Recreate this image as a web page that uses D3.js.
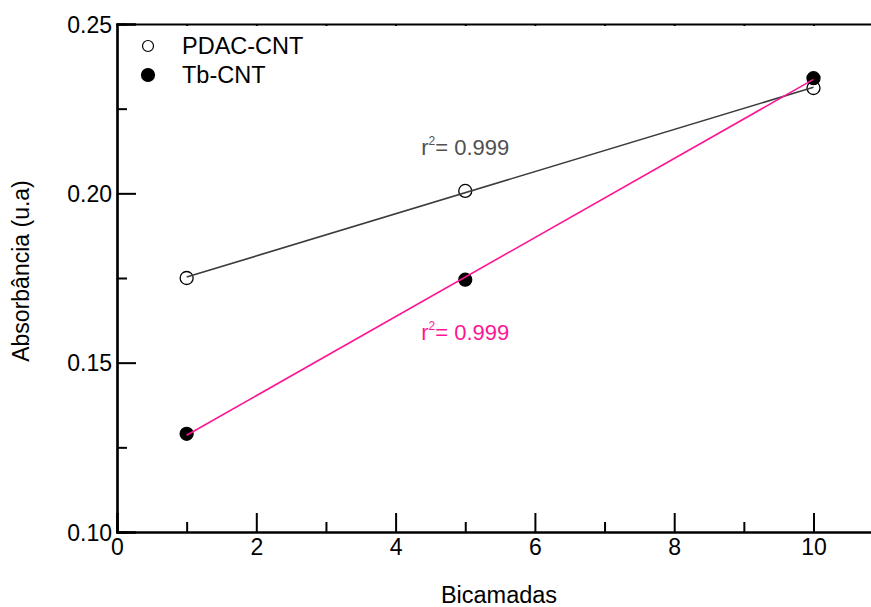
<!DOCTYPE html>
<html>
<head>
<meta charset="utf-8">
<script src="https://cdn.jsdelivr.net/npm/d3@7"></script>
<style>
  body { margin: 0; background: #fff; }
  svg { display: block; font-family: "Liberation Sans", Arial, sans-serif; }
</style>
</head>
<body>
<script>
// Chart data
const bicamadas = [1, 5, 10];
const pdacValues = [0.175, 0.2007, 0.2311];
const tbValues = [0.129, 0.1745, 0.234];
const seriesNames = ["PDAC-CNT", "Tb-CNT"];
const r2Labels = ["0.999", "0.999"];
const xTicks = [0, 2, 4, 6, 8, 10];
const yTicks = [0.10, 0.15, 0.20, 0.25];

const w = 871;
const h = 607;

const svg = d3.select("body")
    .append("svg")
    .attr("width", w)
    .attr("height", h);

const x = d3.scaleLinear().domain([0, 10.9]).range([117, 117 + 10.9 * 69.65]);
const y = d3.scaleLinear().domain([0.10, 0.25]).range([532, 24]);

// least squares fit
function fit(xs, ys) {
    const mx = d3.mean(xs), my = d3.mean(ys);
    let sxy = 0, sxx = 0;
    xs.forEach((v, i) => { sxy += (v - mx) * (ys[i] - my); sxx += (v - mx) * (v - mx); });
    const b = sxy / sxx;
    return { b, a: my - b * mx };
}

// Axes
const minorX = d3.range(1, 11, 2);
const minorY = [0.125, 0.175, 0.225];

const xAxis = svg.append("g").attr("transform", `translate(0, ${y(0.10)})`);
xAxis.call(d3.axisBottom(x).tickValues(xTicks).tickSize(-19).tickPadding(7).tickFormat(d3.format("d")));
xAxis.append("g").call(d3.axisBottom(x).tickValues(minorX).tickSize(-10).tickFormat(""));

const yAxis = svg.append("g").attr("transform", `translate(${x(0)}, 0)`);
yAxis.call(d3.axisLeft(y).tickValues(yTicks).tickSize(-19).tickPadding(5).tickFormat(d3.format(".2f")));
yAxis.append("g").call(d3.axisLeft(y).tickValues(minorY).tickSize(-10).tickFormat(""));

const topAxis = svg.append("g").attr("transform", `translate(0, ${y(0.25)})`);
topAxis.call(d3.axisTop(x).tickValues(d3.range(0, 11)).tickSize(-2).tickFormat(""));

svg.selectAll(".domain").attr("stroke", "#000").attr("stroke-width", 2.2);
svg.selectAll(".tick line").attr("stroke", "#000").attr("stroke-width", 2);
svg.selectAll(".tick text").attr("font-size", 23).attr("fill", "#000")
    .attr("font-family", "'Liberation Sans', Arial, sans-serif");
xAxis.selectAll(".tick text").attr("dy", "0.71em");
yAxis.selectAll(".tick text").attr("dy", "0.36em");

// Axis titles
svg.append("text")
    .attr("x", 499).attr("y", 603)
    .attr("text-anchor", "middle")
    .attr("font-size", 23.5)
    .text("Bicamadas");

svg.append("text")
    .attr("transform", `translate(29, ${271}) rotate(-90)`)
    .attr("text-anchor", "middle")
    .attr("font-size", 23)
    .text("Absorbância (u.a)");

// Series
const series = [
    { name: seriesNames[0], ys: pdacValues, line: "#3c3c3c", fill: "#fff", text: "#505050", r2: r2Labels[0], lx: 5.0, ly: 0.2113 },
    { name: seriesNames[1], ys: tbValues, line: "#ff1493", fill: "#000", text: "#ff1493", r2: r2Labels[1], lx: 5.0, ly: 0.1567 }
];

series.forEach(s => {
    const f = fit(bicamadas, s.ys);
    const x0 = d3.min(bicamadas), x1 = d3.max(bicamadas);

    svg.selectAll(null)
        .data(bicamadas.map((b, i) => [b, s.ys[i]]))
        .join("circle")
        .attr("cx", d => x(d[0]))
        .attr("cy", d => y(d[1]))
        .attr("r", 6.5)
        .attr("fill", s.fill)
        .attr("stroke", "#000")
        .attr("stroke-width", 1.3);

    svg.append("line")
        .attr("x1", x(x0)).attr("y1", y(f.a + f.b * x0))
        .attr("x2", x(x1)).attr("y2", y(f.a + f.b * x1))
        .attr("stroke", s.line)
        .attr("stroke-width", 1.6);

    const t = svg.append("text")
        .attr("x", x(s.lx)).attr("y", y(s.ly))
        .attr("text-anchor", "middle")
        .attr("font-size", 22)
        .attr("fill", s.text);
    t.append("tspan").text("r");
    t.append("tspan").attr("font-size", 12).attr("dy", -10).text("2");
    t.append("tspan").attr("dy", 10).text("= " + s.r2);
});

// Legend
const legend = svg.append("g");
series.forEach((s, i) => {
    const ly = 46 + i * 29;
    legend.append("circle")
        .attr("cx", 148).attr("cy", ly)
        .attr("r", i === 0 ? 5.5 : 6.5)
        .attr("fill", s.fill)
        .attr("stroke", "#000")
        .attr("stroke-width", 1.2);
    legend.append("text")
        .attr("x", 182).attr("y", ly + 8)
        .attr("font-size", 23.5)
        .text(s.name);
});
</script>
</body>
</html>
